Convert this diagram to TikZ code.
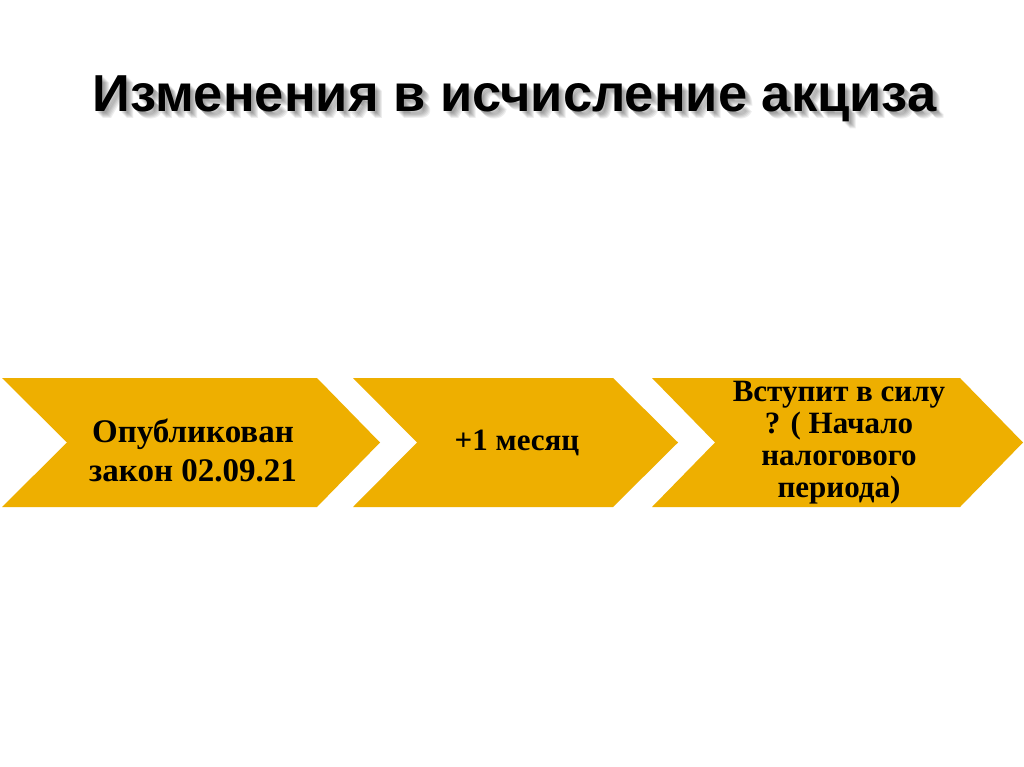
\documentclass[tikz,border=0pt]{standalone}
\usepackage{fontspec}
\setmainfont{Liberation Serif}
\newfontfamily\titlefont{Liberation Sans}
\usetikzlibrary{positioning}
\definecolor{gold}{HTML}{EEAF00}
\begin{document}
\begin{tikzpicture}[
				x=1pt,y=-1pt,
				chevron/.style={fill=gold,draw=none},
				label/.style={align=center,inner sep=0pt,font=\bfseries},
				headline/.style={anchor=base,inner sep=0pt,xscale=1.01,font=\titlefont\bfseries\fontsize{52}{60}\selectfont}
			]
			\useasboundingbox (0,0) rectangle (1024,767);
			\fill[white] (0,0) rectangle (1024,767);
			
			% title with soft shadow
			\foreach \d in {2,3,...,7}
				\node [headline,text=black,opacity=.07] (shadow\d) at (514.5+\d,112+\d) {Изменения в исчисление акциза};
			\node [headline] (title) at (514.5,112) {Изменения в исчисление акциза};
			
			% chevrons
			\fill [chevron] (2,378) -- (317,378) -- (380,442.5) -- (317,507) -- (2,507) -- (67,442.5) -- cycle;
			\fill [chevron] (353,378) -- (613,378) -- (678,442.5) -- (613,507) -- (353,507) -- (417,442.5) -- cycle;
			\fill [chevron] (652,378) -- (960,378) -- (1023,442.5) -- (960,507) -- (652,507) -- (715,442.5) -- cycle;
			
			\node [label,font=\bfseries\fontsize{33}{39}\selectfont] (law) at (193,450) {Опубликован\\закон 02.09.21};
			\node [label,font=\bfseries\fontsize{31}{32}\selectfont] (month) at (517,443) {+1 месяц};
			\node [label,font=\bfseries\fontsize{31}{32}\selectfont] (force) at (839,443) {Вступит в силу\\? ( Начало\\налогового\\периода)};
		\end{tikzpicture}
\end{document}
